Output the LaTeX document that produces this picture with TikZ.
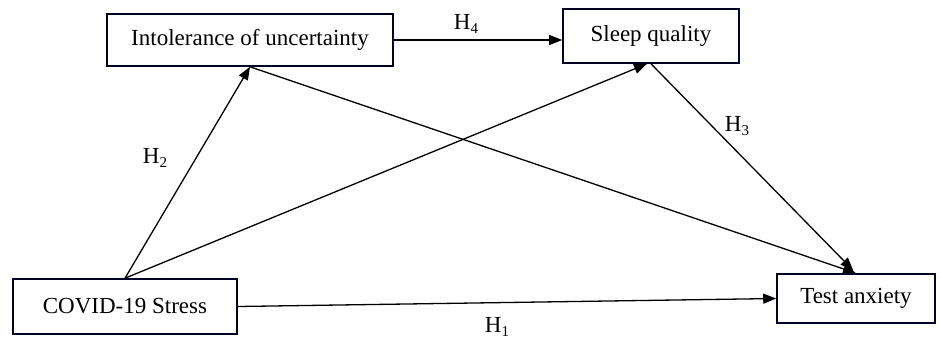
\documentclass[tikz,border=0pt]{standalone}
\usepackage{fontspec}
\setmainfont{Liberation Serif}
\usetikzlibrary{arrows.meta}
\newcommand{\hlab}[1]{H\raisebox{-0.35ex}{\fontsize{15}{15}\selectfont #1}}
\begin{document}
\begin{tikzpicture}[x=1pt,y=-1pt,
  varbox/.style={draw=black!85!blue, line width=1.6pt, fill=white, inner sep=0pt,
    font=\fontsize{23}{27}\selectfont},
  conn/.style={line width=1.3pt, -{Triangle[length=13pt,width=10pt]}},
  hl/.style={font=\fontsize{23}{27}\selectfont, inner sep=0pt}]
\useasboundingbox[fill=white] (0,0) rectangle (940,341);
\node[varbox, minimum width=286pt, minimum height=52pt] (iou) at (250,40) {Intolerance of uncertainty};
\node[varbox, minimum width=176pt, minimum height=54pt] (sq) at (651,36) {Sleep quality};
\node[varbox, minimum width=224pt, minimum height=55pt] (covid) at (125,306.5) {COVID-19 Stress};
\node[varbox, minimum width=158pt, minimum height=49pt] (ta) at (856,298.5) {Test anxiety};
\draw[conn] (iou.east) -- (iou.east -| sq.west);
\draw[conn] (covid.north) -- (iou.south);
\draw[conn] (covid.north) -- ([xshift=-4pt]sq.south);
\draw[conn] (iou.south) -- (ta.north);
\draw[conn, shorten >=4pt] (sq.south) -- (ta.north);
\draw[conn] (covid.east) -- (ta.west);
\node[hl] (h4) at (466,24) {\hlab{4}};
\node[hl] (h2) at (155,158) {\hlab{2}};
\node[hl] (h3) at (737,126) {\hlab{3}};
\node[hl] (h1) at (497,327) {\hlab{1}};
\end{tikzpicture}
\end{document}
